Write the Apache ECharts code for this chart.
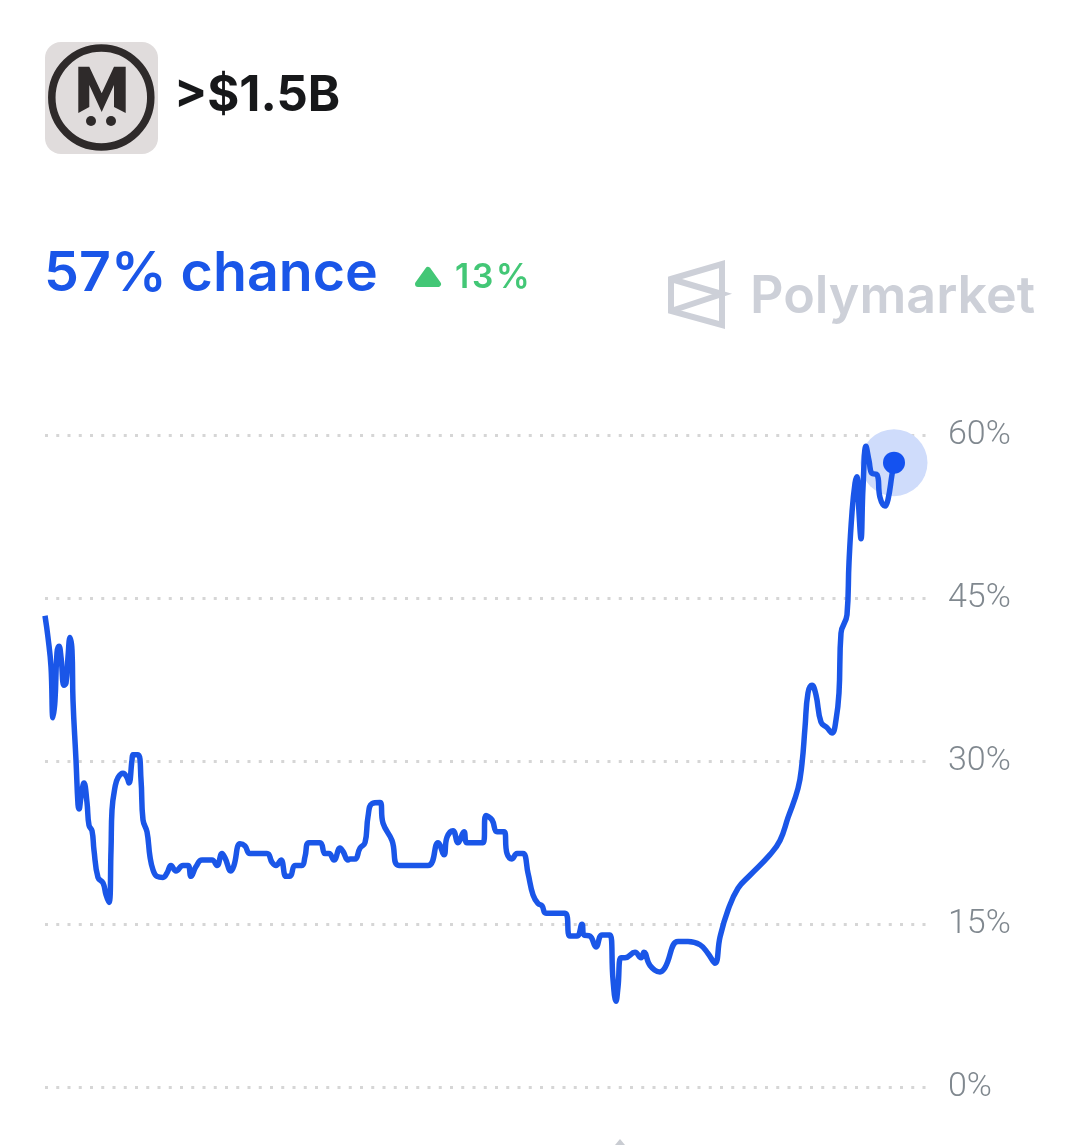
<!DOCTYPE html>
<html><head><meta charset="utf-8">
<style>html,body{margin:0;padding:0;background:#fff}#c{width:1080px;height:1145px}</style>
<script src="https://cdn.jsdelivr.net/npm/echarts@6/dist/echarts.min.js"></script>
</head><body><div id="c"></div>
<script>
const timeSteps = [0,3,6,8,10,12,14,16,19,21,23,25,27,28,31,33,34,36,39,42,44,47,49,53,58,61,64,66,67,70,73,78,82,84,87,88,93,96,98,102,105,108,112,118,122,126,131,138,143,146,151,157,167,172,177,180,186,189,195,200,205,222,227,231,236,241,245,250,257,260,264,275,280,284,289,295,298,303,
305,310,315,320,323,327,335,338,347,354,383,393,399,402,408,413,419,422,438,441,447,452,459,462,467,472,478,483,488,493,497,501,520,525,532,537,539,545,551,557,565,568,571,573,576,580,590,596,599,605,615,620,633,643,655,663,670,675,683,693,705,
725,735,743,753,757,760,763,767,771,776,782,787,791,794,796,802,804,807,810,812,814,816,818,821,824,827,832,835,840,843,847,849];
const chance = [43.4,41.4,38.7,34.0,35.6,40.0,40.6,39.6,37.0,37.2,39.6,41.4,40.2,35.6,30.1,26.0,25.6,26.7,28.0,26.2,24.1,23.6,21.8,19.3,18.8,17.7,17.0,21.8,25.5,27.6,28.5,28.9,28.5,28.0,30.1,30.6,30.6,28.3,24.6,23.5,21.2,20.0,19.4,19.3,19.7,20.4,19.9,20.4,20.4,19.4,20.3,20.9,20.9,20.4,21.5,21.1,19.9,20.4,22.4,22.2,21.5,21.5,20.7,20.4,20.9,19.4,19.4,20.4,20.4,21.2,22.5,22.5,21.5,21.5,20.9,22.0,21.7,20.9,
21.0,21.0,22.0,22.5,24.9,26.1,26.2,24.3,22.7,20.4,20.4,22.5,21.4,23.0,23.6,22.5,23.5,22.5,22.5,25.0,24.6,23.5,23.5,21.5,21.0,21.5,21.5,19.7,17.7,16.9,16.7,16.0,16.0,13.9,13.9,15.0,14.0,13.9,12.9,14.0,14.0,9.9,7.9,9.2,11.9,11.9,12.4,11.9,12.4,11.2,10.6,11.0,13.4,13.4,13.1,12.3,11.4,13.8,16.3,18.3,19.5,
21.4,22.7,24.8,27.5,29.8,33.1,36.3,37.0,36.1,33.6,33.1,32.6,33.8,36.3,41.8,43.5,48.3,52.9,55.6,56.2,52.9,50.5,55.2,59.0,57.7,56.5,56.4,54.3,53.5,54.1,56.4,57.5];
const yTicks = [0,15,30,45,60];
const title = '>$1.5B';
const headline = '57% chance';
const change = '13%';
const brand = 'Polymarket';

const BLUE = '#1a56e8', GREY = '#cdd0d8';
const line = timeSteps.map((t,i)=>[t,chance[i]]);
const last = line[line.length-1];
const chart = echarts.init(document.getElementById('c'), null, {renderer:'canvas'});
chart.setOption({
  animation:false,
  backgroundColor:'#fff',
  grid:{left:45,right:154,top:435.5,bottom:58},
  xAxis:{type:'value',min:0,max:881,show:false},
  yAxis:{type:'value',position:'right',min:0,max:60,interval:15,
    axisLine:{show:false},axisTick:{show:false},
    axisLabel:{margin:22,color:'#80888f',fontFamily:'Roboto',fontSize:34,fontWeight:300,
      formatter:v=>yTicks.includes(v)?v+'%':''},
    splitLine:{show:true,lineStyle:{color:'#d6d6d6',width:3,type:[3,8.25],cap:'butt'}}},
  series:[
    {type:'scatter',data:[last],symbolSize:67,z:1,silent:true,itemStyle:{color:'#cfdcfb',opacity:1}},
    {type:'line',data:line,smooth:0.45,showSymbol:false,z:2,clip:false,
      lineStyle:{color:BLUE,width:5.5,join:'round',cap:'butt'}},
    {type:'scatter',data:[last],symbolSize:22,z:3,silent:true,itemStyle:{color:'#1452f0',opacity:1}}
  ],
  graphic:[
    {type:'rect',shape:{x:45,y:42,width:113,height:112,r:16},style:{fill:'#e0dcdc'}},
    {type:'circle',shape:{cx:101.3,cy:97.5,r:49.5},style:{fill:'none',stroke:'#2e2a2a',lineWidth:7.5}},
    {type:'polygon',shape:{points:[[78.3,66.7],[89.3,66.7],[101.7,93.3],[114,66.7],[125.7,66.7],[125.7,113],[114,107],[114,85],[101.7,112],[89.3,85],[89.3,107],[78.3,113]]},style:{fill:'#2e2a2a'}},
    {type:'circle',shape:{cx:91,cy:121,r:5},style:{fill:'#2e2a2a'}},
    {type:'circle',shape:{cx:111,cy:121,r:5},style:{fill:'#2e2a2a'}},
    {type:'text',x:174,y:96,style:{text:title,fill:'#17181a',font:'700 49px Inter',textVerticalAlign:'middle'}},
    {type:'text',x:44,y:274,style:{text:headline,fill:BLUE,font:'600 55.5px Inter',textVerticalAlign:'middle'}},
    {type:'polygon',shape:{points:[[428,270],[438,284],[418,284]]},style:{fill:'#43c776',stroke:'#43c776',lineWidth:6,lineJoin:'round'}},
    {type:'text',x:455,y:278,style:{text:change.split('').join('\u200A'),fill:'#43c776',font:'600 33.5px Inter',textVerticalAlign:'middle'}},
    {type:'polygon',shape:{points:[[671,279],[722,264],[722,325],[671,311]]},style:{fill:'none',stroke:GREY,lineWidth:6,lineJoin:'miter'}},
    {type:'polyline',shape:{points:[[671,279],[722,294],[671,311]]},style:{fill:'none',stroke:GREY,lineWidth:6}},
    {type:'text',x:750,y:297,style:{text:brand,fill:GREY,font:'600 52px Inter',textVerticalAlign:'middle'}},
    {type:'polygon',shape:{points:[[620,1139],[625,1145],[615,1145]]},style:{fill:'#c9ccd2'}}
  ]
});
</script></body></html>
